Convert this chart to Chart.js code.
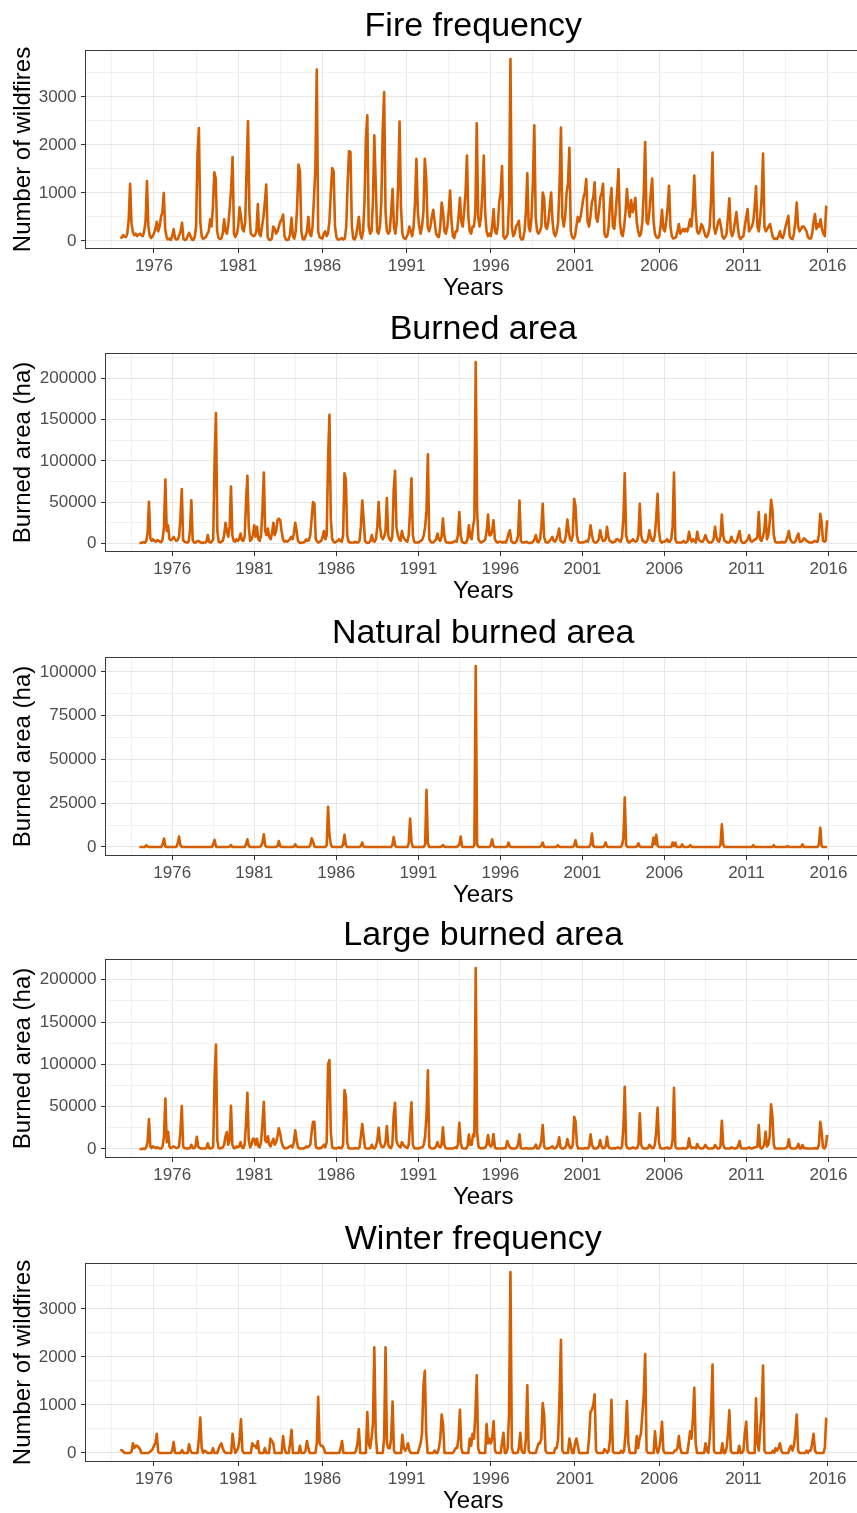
<!DOCTYPE html>
<html>
<head>
<meta charset="utf-8">
<script src="https://cdn.jsdelivr.net/npm/chart.js@4/dist/chart.umd.min.js"></script>
<style>
  html, body { margin: 0; padding: 0; background: #ffffff; width: 857px; height: 1513px; overflow: hidden; }
  .panel { position: absolute; left: 0; width: 866px; height: 303px; }
</style>
</head>
<body>
<div class="panel" style="top:0px"><canvas id="p1" width="866" height="303"></canvas></div>
<div class="panel" style="top:303px"><canvas id="p2" width="866" height="303"></canvas></div>
<div class="panel" style="top:607px"><canvas id="p3" width="866" height="303"></canvas></div>
<div class="panel" style="top:909px"><canvas id="p4" width="866" height="303"></canvas></div>
<div class="panel" style="top:1213px"><canvas id="p5" width="866" height="303"></canvas></div>
<script>
// Monthly series, January 1974 to December 2015 (12 values per row).
const START_YEAR = 1974;
const xTickYears = [1976, 1981, 1986, 1991, 1996, 2001, 2006, 2011, 2016];

const fireFrequency = [
  60, 70, 120, 90, 80, 150, 450, 1190, 350, 180, 120, 150,        // 1974
  100, 130, 150, 120, 100, 200, 400, 1245, 300, 100, 60, 100,     // 1975
  150, 250, 400, 200, 300, 500, 600, 1000, 250, 80, 30, 50,       // 1976
  20, 100, 245, 60, 30, 40, 120, 200, 380, 40, 20, 30,            // 1977
  100, 170, 100, 30, 20, 80, 300, 1800, 2350, 400, 100, 40,       // 1978
  60, 80, 150, 200, 450, 300, 700, 1430, 1300, 200, 60, 40,       // 1979
  50, 150, 450, 200, 150, 350, 700, 1100, 1750, 150, 80, 150,     // 1980
  300, 700, 500, 250, 200, 400, 1500, 2500, 600, 150, 120, 100,   // 1981
  120, 200, 770, 150, 100, 300, 500, 800, 1175, 80, 30, 20,       // 1982
  50, 300, 250, 150, 200, 300, 400, 450, 550, 100, 30, 20,        // 1983
  30, 150, 480, 100, 50, 200, 700, 1590, 1450, 200, 40, 30,       // 1984
  100, 200, 500, 150, 100, 300, 900, 1500, 3570, 200, 80, 60,     // 1985
  50, 150, 200, 100, 150, 400, 1000, 1520, 1450, 300, 80, 30,     // 1986
  30, 40, 60, 30, 50, 300, 1200, 1870, 1850, 300, 50, 30,         // 1987
  100, 300, 500, 150, 50, 200, 800, 2100, 2620, 300, 150, 200,    // 1988
  800, 2200, 1200, 200, 150, 300, 800, 2300, 3100, 600, 200, 150, // 1989
  200, 600, 1080, 300, 150, 400, 1200, 2490, 700, 150, 60, 40,    // 1990
  80, 150, 300, 200, 100, 300, 800, 1710, 600, 300, 150, 300,     // 1991
  600, 1710, 1300, 300, 200, 300, 500, 650, 400, 150, 100, 80,    // 1992
  300, 800, 600, 200, 150, 300, 600, 1050, 400, 100, 60, 200,     // 1993
  200, 500, 900, 400, 300, 600, 1000, 1780, 500, 200, 150, 300,   // 1994
  300, 600, 2450, 500, 300, 500, 1000, 1780, 600, 200, 100, 150,  // 1995
  100, 300, 665, 200, 150, 300, 800, 1000, 1560, 100, 50, 80,     // 1996
  150, 800, 3790, 300, 100, 150, 300, 350, 420, 80, 30, 40,       // 1997
  200, 600, 1410, 300, 200, 500, 1200, 2410, 500, 200, 150, 200,  // 1998
  300, 1010, 900, 300, 250, 400, 700, 1010, 400, 150, 100, 200,   // 1999
  400, 1200, 2360, 500, 300, 500, 1000, 1200, 1940, 200, 80, 50,  // 2000
  100, 300, 500, 400, 500, 700, 900, 1000, 1290, 400, 300, 500,   // 2001
  800, 900, 1220, 500, 400, 600, 900, 1000, 1190, 150, 80, 100,   // 2002
  300, 800, 1100, 300, 250, 600, 1000, 1500, 400, 150, 100, 300,  // 2003
  600, 1080, 700, 500, 850, 600, 700, 900, 400, 200, 100, 150,    // 2004
  400, 1000, 2060, 400, 350, 600, 1000, 1300, 400, 150, 80, 60,   // 2005
  100, 300, 650, 250, 200, 400, 700, 1150, 300, 100, 50, 60,      // 2006
  80, 200, 350, 150, 200, 250, 200, 250, 200, 300, 450, 300,      // 2007
  700, 1360, 600, 200, 150, 200, 350, 300, 200, 100, 80, 150,     // 2008
  300, 900, 1840, 300, 150, 250, 400, 450, 300, 100, 50, 80,      // 2009
  150, 500, 890, 200, 100, 200, 400, 600, 300, 80, 40, 80,        // 2010
  100, 300, 500, 665, 200, 250, 300, 400, 700, 1140, 300, 200,    // 2011
  500, 900, 1820, 300, 200, 250, 300, 350, 200, 80, 40, 50,       // 2012
  40, 100, 200, 80, 60, 150, 300, 400, 525, 100, 50, 40,          // 2013
  150, 400, 800, 300, 200, 250, 300, 300, 250, 200, 80, 50,       // 2014
  50, 150, 400, 560, 250, 350, 300, 450, 250, 150, 100, 735       // 2015
];

const burnedArea = [
  500, 500, 1000, 1500, 800, 3000, 12000, 50300, 6000, 3000, 5000, 3000,          // 1974
  2000, 4000, 3000, 2000, 1500, 5000, 20000, 77500, 15000, 22000, 5000, 4000,     // 1975
  5000, 8000, 5000, 3000, 4000, 8000, 30000, 66000, 4000, 2000, 1500, 1000,       // 1976
  2000, 15000, 52300, 4000, 1000, 1000, 2000, 3000, 2000, 1000, 500, 1000,        // 1977
  1000, 2000, 10000, 2000, 1000, 2000, 5000, 100000, 158000, 15000, 2000, 1000,   // 1978
  2000, 3000, 10000, 25000, 15000, 8000, 20000, 69000, 10000, 3000, 2000, 5000,   // 1979
  3000, 5000, 12000, 4000, 3000, 8000, 50000, 82000, 20000, 3000, 5000, 10000,    // 1980
  22000, 8000, 20000, 5000, 3000, 10000, 40000, 86000, 15000, 10000, 18000, 8000, // 1981
  5000, 12000, 25000, 10000, 15000, 28000, 30000, 28000, 15000, 5000, 2000, 3000, // 1982
  2000, 3000, 5000, 8000, 5000, 12000, 25000, 15000, 3000, 1000, 500, 1000,       // 1983
  1000, 2000, 5000, 3000, 4000, 10000, 30000, 50000, 48000, 5000, 2000, 1000,     // 1984
  2000, 3000, 8000, 15000, 5000, 10000, 100000, 156000, 30000, 5000, 2000, 1000,  // 1985
  2000, 3000, 5000, 3000, 2000, 10000, 85000, 78000, 10000, 2000, 1000, 1000,     // 1986
  1000, 1000, 2000, 1000, 1000, 3000, 20000, 52000, 30000, 3000, 1000, 500,       // 1987
  1000, 3000, 10000, 3000, 2000, 5000, 20000, 50000, 20000, 8000, 5000, 8000,     // 1988
  15000, 55000, 10000, 5000, 3000, 8000, 65000, 88000, 20000, 10000, 5000, 3000,  // 1989
  15000, 8000, 5000, 3000, 2000, 10000, 40000, 79000, 10000, 2000, 1000, 1000,    // 1990
  1000, 2000, 3000, 5000, 10000, 20000, 40000, 108000, 5000, 2000, 1000, 1000,    // 1991
  3000, 5000, 12000, 5000, 3000, 8000, 30000, 10000, 2000, 1000, 1000, 500,       // 1992
  1000, 1000, 2000, 3000, 2000, 10000, 38000, 10000, 2000, 1000, 500, 1000,       // 1993
  5000, 22000, 8000, 5000, 20000, 30000, 220000, 40000, 5000, 2000, 1000, 2000,   // 1994
  3000, 5000, 15000, 35000, 10000, 10000, 15000, 28000, 5000, 2000, 1000, 2000,   // 1995
  2000, 1500, 1000, 2000, 1000, 5000, 12000, 16000, 3000, 1000, 500, 1000,        // 1996
  3000, 10000, 52000, 3000, 1000, 1000, 1500, 2000, 1000, 500, 500, 1000,         // 1997
  2000, 5000, 10000, 2000, 1500, 5000, 20000, 48000, 8000, 2000, 1000, 1000,      // 1998
  3000, 5000, 8000, 3000, 2000, 5000, 10000, 18000, 3000, 2000, 1000, 2000,       // 1999
  10000, 29000, 15000, 5000, 3000, 10000, 54000, 45000, 10000, 2000, 1000, 1000,  // 2000
  1000, 1500, 2000, 3000, 2000, 8000, 22000, 10000, 3000, 1000, 1000, 2000,       // 2001
  5000, 16000, 8000, 3000, 3000, 5000, 20000, 8000, 3000, 2000, 1000, 2000,       // 2002
  2000, 5000, 5000, 3000, 2000, 8000, 30000, 85000, 10000, 3000, 1000, 2000,      // 2003
  3000, 5000, 3000, 2000, 3000, 10000, 48000, 10000, 3000, 2000, 1000, 2000,      // 2004
  5000, 16000, 8000, 3000, 3000, 10000, 30000, 60000, 15000, 3000, 1000, 2000,    // 2005
  2000, 3000, 5000, 2000, 2000, 5000, 20000, 86000, 5000, 1000, 1000, 1000,       // 2006
  1000, 1500, 3000, 1000, 1000, 3000, 14000, 5000, 2000, 5000, 3000, 1000,        // 2007
  14000, 5000, 3000, 2000, 2000, 5000, 10000, 5000, 2000, 1000, 1000, 2000,       // 2008
  5000, 20000, 8000, 3000, 2000, 8000, 35000, 10000, 3000, 2000, 1000, 1000,      // 2009
  2000, 8000, 3000, 2000, 1000, 3000, 10000, 15000, 3000, 1000, 500, 1000,        // 2010
  3000, 5000, 10000, 3000, 2000, 3000, 5000, 5000, 8000, 38000, 5000, 3000,       // 2011
  8000, 15000, 35000, 5000, 10000, 25000, 53000, 41000, 10000, 2000, 1000, 1000,  // 2012
  1000, 1000, 2000, 1000, 1000, 3000, 8000, 15000, 5000, 2000, 1000, 1000,        // 2013
  3000, 8000, 12000, 2000, 2000, 3000, 6000, 5000, 3000, 2000, 1000, 1000,        // 2014
  1000, 2000, 3000, 2000, 2000, 10000, 36000, 25000, 3000, 2000, 3000, 28000      // 2015
];

const naturalBurnedArea = [
  0, 0, 0, 0, 0, 1000, 200, 0, 0, 0, 0, 0,         // 1974
  0, 0, 0, 0, 0, 1500, 4800, 300, 0, 0, 0, 0,      // 1975
  0, 0, 0, 0, 2000, 5900, 1000, 0, 0, 0, 0, 0,     // 1976
  0, 0, 0, 0, 0, 0, 0, 0, 0, 0, 0, 0,              // 1977
  0, 0, 0, 0, 0, 0, 1500, 4000, 300, 0, 0, 0,      // 1978
  0, 0, 0, 0, 0, 0, 200, 1100, 0, 0, 0, 0,         // 1979
  0, 0, 0, 0, 0, 0, 1500, 4400, 500, 0, 0, 0,      // 1980
  0, 0, 0, 0, 0, 500, 2500, 7200, 800, 0, 0, 0,    // 1981
  0, 0, 0, 0, 0, 500, 3400, 500, 0, 0, 0, 0,       // 1982
  0, 0, 0, 0, 0, 300, 1500, 200, 0, 0, 0, 0,       // 1983
  0, 0, 0, 0, 0, 1000, 5000, 3000, 300, 0, 0, 0,   // 1984
  0, 0, 0, 0, 0, 1000, 23000, 7000, 1500, 0, 0, 0, // 1985
  0, 0, 0, 0, 0, 1500, 6900, 1000, 0, 0, 0, 0,     // 1986
  0, 0, 0, 0, 0, 0, 500, 2500, 300, 0, 0, 0,       // 1987
  0, 0, 0, 0, 0, 0, 0, 0, 0, 0, 0, 0,              // 1988
  0, 0, 0, 0, 0, 1000, 5700, 1000, 0, 0, 0, 0,     // 1989
  0, 0, 0, 0, 0, 2000, 16200, 3000, 0, 0, 0, 0,    // 1990
  0, 0, 0, 0, 0, 1500, 32600, 2000, 0, 0, 0, 0,    // 1991
  0, 0, 0, 0, 0, 200, 1100, 300, 0, 0, 0, 0,       // 1992
  0, 0, 0, 0, 0, 500, 1500, 5900, 300, 0, 0, 0,    // 1993
  0, 0, 0, 0, 0, 1000, 103400, 1500, 0, 0, 0, 0,   // 1994
  0, 0, 0, 0, 0, 1000, 4400, 500, 0, 0, 0, 0,      // 1995
  0, 0, 0, 0, 0, 300, 2500, 300, 0, 0, 0, 0,       // 1996
  0, 0, 0, 0, 0, 0, 0, 0, 0, 0, 0, 0,              // 1997
  0, 0, 0, 0, 0, 0, 800, 2500, 0, 0, 0, 0,         // 1998
  0, 0, 0, 0, 0, 0, 1000, 300, 0, 0, 0, 0,         // 1999
  0, 0, 0, 0, 0, 0, 1000, 3800, 200, 0, 0, 0,      // 2000
  0, 0, 0, 0, 0, 0, 1500, 7600, 500, 0, 0, 0,      // 2001
  0, 0, 0, 0, 500, 2500, 300, 0, 0, 0, 0, 0,       // 2002
  0, 0, 0, 0, 0, 1000, 5000, 28200, 1000, 0, 0, 0, // 2003
  0, 0, 0, 0, 500, 2100, 300, 0, 0, 0, 0, 0,       // 2004
  0, 0, 0, 0, 5300, 1500, 6900, 800, 0, 0, 0, 0,   // 2005
  0, 0, 0, 0, 0, 0, 2500, 500, 2500, 0, 0, 0,      // 2006
  0, 1500, 0, 0, 0, 0, 300, 1000, 0, 0, 0, 0,      // 2007
  0, 0, 0, 0, 0, 0, 0, 0, 0, 0, 0, 0,              // 2008
  0, 0, 0, 0, 0, 1000, 13000, 1500, 0, 0, 0, 0,    // 2009
  0, 0, 0, 0, 0, 0, 0, 0, 0, 0, 0, 0,              // 2010
  0, 0, 0, 0, 0, 1000, 0, 0, 0, 0, 0, 0,           // 2011
  0, 0, 0, 0, 0, 0, 0, 0, 1000, 0, 0, 0,           // 2012
  0, 0, 0, 0, 0, 0, 500, 0, 0, 0, 0, 0,            // 2013
  0, 0, 0, 0, 0, 1500, 0, 0, 0, 0, 0, 0,           // 2014
  0, 0, 0, 0, 0, 1500, 11000, 500, 0, 0, 0, 0      // 2015
];

const largeBurnedArea = [
  0, 0, 0, 500, 0, 2000, 8000, 35400, 3000, 1000, 3000, 2000,               // 1974
  1000, 2000, 1000, 500, 500, 3000, 15000, 59700, 8000, 20400, 3000, 1000,  // 1975
  2000, 3000, 2000, 1000, 1500, 3000, 20000, 50700, 3000, 1000, 500, 500,   // 1976
  500, 1000, 5000, 1000, 1000, 3000, 14500, 3000, 1000, 500, 500, 500,      // 1977
  500, 1000, 6700, 1000, 500, 1000, 3000, 83000, 123400, 10000, 1000, 500,  // 1978
  1000, 2000, 5000, 15000, 20000, 5000, 10000, 51000, 5000, 1000, 1000, 3000, // 1979
  2000, 3000, 8000, 2000, 1000, 5000, 30000, 66400, 10000, 2000, 5000, 12000, // 1980
  12000, 5000, 12000, 3000, 2000, 8000, 30000, 55800, 10000, 8000, 15000, 5000, // 1981
  3000, 8000, 12000, 5000, 8000, 15000, 24400, 18000, 8000, 3000, 1000, 1000, // 1982
  1000, 2000, 3000, 4000, 2000, 8000, 22000, 10000, 2000, 500, 500, 500,    // 1983
  500, 1000, 3000, 2000, 3000, 5000, 20000, 32000, 32000, 3000, 1000, 500,  // 1984
  1000, 1000, 3000, 5000, 2000, 8000, 100000, 105000, 20000, 2000, 1000, 500, // 1985
  500, 1000, 2000, 1000, 1000, 5000, 69500, 62000, 8000, 1000, 500, 500,    // 1986
  500, 500, 1000, 500, 500, 2000, 15000, 29500, 15000, 2000, 500, 500,      // 1987
  500, 1000, 5000, 1000, 500, 3000, 10000, 25000, 8000, 3000, 2000, 3000,   // 1988
  8000, 27000, 5000, 2000, 1000, 5000, 40000, 54600, 10000, 5000, 3000, 2000, // 1989
  8000, 5000, 3000, 2000, 1000, 5000, 30000, 55000, 5000, 1000, 500, 500,   // 1990
  500, 1000, 2000, 2000, 5000, 15000, 40000, 93000, 3000, 1000, 500, 500,   // 1991
  1000, 3000, 8000, 3000, 2000, 5000, 25500, 5000, 1000, 500, 500, 500,     // 1992
  500, 500, 1000, 2000, 1000, 5000, 31000, 8000, 1000, 500, 500, 500,       // 1993
  3000, 17000, 5000, 5000, 17000, 15000, 213800, 20000, 3000, 1000, 500, 1000, // 1994
  1000, 2000, 5000, 16500, 5000, 3000, 5000, 17700, 2000, 500, 500, 500,    // 1995
  500, 500, 500, 1000, 1000, 9400, 5000, 2000, 500, 500, 500, 500,          // 1996
  2000, 5000, 17300, 1000, 500, 500, 500, 1000, 500, 500, 500, 500,         // 1997
  500, 2000, 5000, 500, 500, 3000, 10000, 28300, 3000, 500, 500, 500,       // 1998
  1000, 2000, 3000, 1000, 500, 2000, 5000, 13800, 2000, 500, 500, 1000,     // 1999
  3000, 11800, 5000, 1000, 1000, 5000, 38100, 33000, 5000, 500, 500, 500,   // 2000
  500, 500, 1000, 1000, 500, 3000, 17300, 5000, 1000, 500, 500, 1000,       // 2001
  3000, 10600, 3000, 1000, 1000, 3000, 14500, 3000, 1000, 500, 500, 1000,   // 2002
  500, 1000, 2000, 1000, 500, 3000, 25000, 73500, 5000, 1000, 500, 500,     // 2003
  1000, 2000, 1000, 500, 1000, 5000, 42000, 5000, 1000, 500, 500, 500,      // 2004
  1000, 5000, 3000, 1000, 1000, 5000, 20000, 48700, 8000, 1000, 500, 500,   // 2005
  500, 1000, 2000, 500, 500, 2000, 10000, 72300, 3000, 500, 500, 500,       // 2006
  500, 500, 1000, 500, 500, 2000, 12600, 3000, 1000, 2000, 1000, 500,       // 2007
  5900, 2000, 1000, 500, 500, 2000, 4700, 2000, 500, 500, 500, 500,         // 2008
  1000, 4700, 2000, 500, 500, 3000, 33400, 5000, 1000, 500, 500, 500,       // 2009
  500, 2000, 1000, 500, 500, 1000, 4000, 9400, 1000, 500, 500, 500,         // 2010
  500, 1000, 2000, 500, 500, 1000, 2000, 2000, 3000, 28300, 2000, 500,      // 2011
  2000, 5000, 20400, 3000, 5000, 15000, 52700, 38100, 5000, 500, 500, 500,  // 2012
  500, 500, 500, 500, 500, 1000, 3000, 11400, 2000, 500, 500, 500,          // 2013
  500, 2000, 5900, 500, 500, 4700, 1000, 1000, 500, 500, 500, 500,          // 2014
  500, 500, 1000, 500, 500, 5000, 32200, 20000, 2000, 500, 3000, 16500      // 2015
];

const winterFrequency = [
  50, 60, 30, 0, 0, 0, 0, 0, 30, 200, 100, 150,        // 1974
  150, 120, 80, 0, 0, 0, 0, 0, 0, 20, 50, 80,          // 1975
  150, 200, 400, 20, 0, 0, 0, 0, 0, 0, 0, 0,           // 1976
  0, 50, 230, 0, 0, 0, 0, 0, 60, 0, 0, 0,              // 1977
  0, 180, 50, 0, 0, 0, 0, 0, 300, 740, 100, 0,         // 1978
  50, 30, 0, 0, 0, 0, 100, 0, 0, 0, 80, 150,           // 1979
  200, 100, 30, 0, 0, 0, 0, 0, 400, 150, 0, 50,        // 1980
  100, 300, 700, 50, 0, 0, 0, 0, 0, 0, 200, 150,       // 1981
  150, 100, 250, 0, 0, 0, 0, 100, 0, 0, 0, 300,        // 1982
  250, 200, 0, 0, 0, 0, 0, 0, 350, 100, 0, 0,          // 1983
  0, 200, 480, 0, 0, 0, 0, 0, 150, 0, 0, 0,            // 1984
  50, 250, 100, 0, 0, 0, 0, 0, 200, 1170, 200, 150,    // 1985
  150, 100, 0, 0, 0, 0, 0, 0, 0, 0, 0, 0,              // 1986
  0, 100, 250, 0, 0, 0, 0, 0, 0, 0, 0, 0,              // 1987
  50, 200, 500, 0, 0, 0, 0, 0, 850, 200, 100, 300,     // 1988
  600, 2200, 400, 0, 0, 0, 0, 0, 300, 2200, 200, 100,  // 1989
  100, 300, 1070, 50, 0, 0, 0, 0, 0, 380, 100, 50,     // 1990
  100, 200, 50, 0, 0, 0, 0, 0, 0, 100, 200, 400,       // 1991
  1400, 1710, 400, 0, 0, 0, 0, 0, 50, 0, 0, 100,       // 1992
  300, 800, 600, 0, 0, 0, 0, 0, 0, 0, 50, 100,         // 1993
  100, 300, 900, 100, 0, 0, 0, 0, 0, 300, 150, 400,    // 1994
  300, 800, 1620, 100, 0, 0, 0, 0, 0, 600, 200, 300,   // 1995
  200, 300, 665, 50, 0, 0, 0, 0, 200, 420, 0, 0,       // 1996
  100, 800, 3770, 100, 0, 0, 0, 0, 100, 420, 50, 0,    // 1997
  0, 300, 1410, 50, 0, 0, 0, 0, 0, 100, 200, 200,      // 1998
  300, 1040, 800, 50, 0, 0, 0, 0, 0, 0, 100, 100,      // 1999
  300, 1200, 2360, 50, 0, 0, 0, 0, 300, 150, 0, 0,     // 2000
  200, 300, 150, 0, 0, 0, 0, 0, 0, 0, 300, 850,        // 2001
  900, 1000, 1220, 50, 0, 0, 0, 0, 0, 80, 50, 0,       // 2002
  50, 300, 1110, 30, 0, 0, 0, 0, 0, 50, 0, 50,         // 2003
  400, 1080, 200, 0, 0, 0, 0, 0, 350, 100, 300, 400,   // 2004
  800, 1200, 2060, 50, 0, 0, 0, 0, 0, 450, 100, 0,     // 2005
  100, 300, 650, 50, 0, 0, 0, 0, 0, 0, 0, 50,          // 2006
  50, 100, 350, 100, 0, 0, 0, 0, 0, 200, 450, 300,     // 2007
  700, 1360, 200, 0, 0, 0, 0, 0, 0, 200, 50, 0,        // 2008
  300, 900, 1840, 50, 0, 0, 0, 0, 0, 200, 0, 0,        // 2009
  100, 400, 890, 50, 0, 0, 0, 0, 0, 150, 0, 0,         // 2010
  50, 400, 650, 50, 0, 0, 0, 0, 0, 1140, 200, 50,      // 2011
  500, 900, 1820, 50, 0, 0, 0, 0, 0, 50, 0, 100,       // 2012
  50, 100, 200, 50, 0, 0, 0, 0, 0, 100, 150, 50,       // 2013
  150, 400, 800, 50, 0, 0, 0, 0, 0, 50, 0, 50,         // 2014
  50, 200, 400, 50, 0, 0, 0, 0, 0, 0, 100, 735         // 2015
];

const FONT = "'Liberation Sans', Arial, sans-serif";
const LINE_COLOR = '#D55E00';
const GRID_MAJOR = '#e6e6e6';
const GRID_MINOR = '#f1f1f1';

// Panel frame drawn over the plotting region (ggplot-style border).
const panelBorder = {
  id: 'panelBorder',
  afterDraw(chart) {
    const { ctx, chartArea: a } = chart;
    ctx.save();
    ctx.strokeStyle = '#3a3a3a';
    ctx.lineWidth = 1;
    ctx.strokeRect(Math.round(a.left) + 0.5, Math.round(a.top) + 0.5,
                   Math.round(a.right - a.left) - 1, Math.round(a.bottom - a.top) - 1);
    ctx.restore();
  }
};

function expandRange(lo, hi) {
  const pad = (hi - lo) * 0.05;
  return [lo - pad, hi + pad];
}

function makePanel(canvasId, title, yTitle, values, majorStep, axisWidth) {
  const points = values.map((v, i) => ({ x: START_YEAR + i / 12, y: v }));
  const [xMin, xMax] = expandRange(points[0].x, points[points.length - 1].x);
  const [yMin, yMax] = expandRange(Math.min(...values), Math.max(...values));

  const xTicks = [];
  for (let v = xTickYears[0] - 2.5; v <= xMax; v += 2.5) if (v >= xMin) xTicks.push(v);
  const minorStep = majorStep / 2;
  const yTicks = [];
  for (let v = Math.ceil(yMin / minorStep) * minorStep; v <= yMax; v += minorStep) yTicks.push(v);

  const isMajorX = v => xTickYears.includes(v);
  const isMajorY = v => Math.abs(v % majorStep) < 1e-9;

  const tickFont = { family: FONT, size: 17 };
  const titleFont = { family: FONT, size: 24 };

  new Chart(document.getElementById(canvasId), {
    type: 'line',
    data: {
      datasets: [{
        data: points,
        borderColor: LINE_COLOR,
        borderWidth: 2.6,
        borderJoinStyle: 'round',
        pointRadius: 0,
        tension: 0,
        fill: false
      }]
    },
    options: {
      responsive: false,
      animation: false,
      devicePixelRatio: 1,
      events: [],
      parsing: false,
      layout: { padding: { left: 0, right: 4.5, top: 0, bottom: 0 } },
      plugins: {
        legend: { display: false },
        tooltip: { enabled: false },
        title: {
          display: true,
          text: title,
          color: '#000000',
          fullSize: false,
          font: { family: FONT, size: 34, weight: 'normal' },
          padding: { top: 5.8, bottom: 3.4 }
        }
      },
      scales: {
        x: {
          type: 'linear',
          min: xMin,
          max: xMax,
          afterBuildTicks: s => { s.ticks = xTicks.map(v => ({ value: v })); },
          afterFit: s => { s.height = 54; },
          ticks: {
            callback: v => (isMajorX(v) ? String(v) : ''),
            autoSkip: false, maxRotation: 0, minRotation: 0,
            padding: 3, color: '#4d4d4d', font: tickFont
          },
          grid: {
            color: c => (c.tick && isMajorX(c.tick.value) ? GRID_MAJOR : GRID_MINOR),
            lineWidth: 1,
            drawTicks: true,
            tickLength: 4,
            tickWidth: 1,
            tickColor: c => (c.tick && isMajorX(c.tick.value) ? '#333333' : 'rgba(0,0,0,0)')
          },
          border: { display: false },
          title: { display: true, text: 'Years', color: '#000000', font: titleFont, padding: { top: 0, bottom: 0.6 } }
        },
        y: {
          type: 'linear',
          min: yMin,
          max: yMax,
          afterBuildTicks: s => { s.ticks = yTicks.map(v => ({ value: v })); },
          afterFit: s => { s.width = axisWidth; },
          ticks: {
            callback: v => (isMajorY(v) ? String(v) : ''),
            autoSkip: false,
            padding: 4.5, color: '#4d4d4d', font: tickFont
          },
          grid: {
            color: c => (c.tick && isMajorY(c.tick.value) ? GRID_MAJOR : GRID_MINOR),
            lineWidth: 1,
            drawTicks: true,
            tickLength: 4,
            tickWidth: 1,
            tickColor: c => (c.tick && isMajorY(c.tick.value) ? '#333333' : 'rgba(0,0,0,0)')
          },
          border: { display: false },
          title: { display: true, text: yTitle, color: '#000000', font: titleFont, padding: { top: 8.6, bottom: 0 } }
        }
      }
    },
    plugins: [panelBorder]
  });
}

makePanel('p1', 'Fire frequency', 'Number of wildfires', fireFrequency, 1000, 85);
makePanel('p2', 'Burned area', 'Burned area (ha)', burnedArea, 50000, 105);
makePanel('p3', 'Natural burned area', 'Burned area (ha)', naturalBurnedArea, 25000, 105);
makePanel('p4', 'Large burned area', 'Burned area (ha)', largeBurnedArea, 50000, 105);
makePanel('p5', 'Winter frequency', 'Number of wildfires', winterFrequency, 1000, 85);
</script>
</body>
</html>
